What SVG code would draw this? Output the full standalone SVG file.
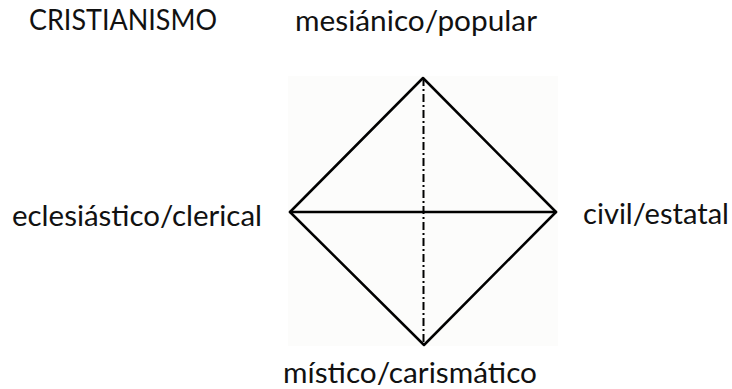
<svg xmlns="http://www.w3.org/2000/svg" width="732" height="389" viewBox="0 0 732 389">
<style>
.t{font-family:Lato,"Open Sans","Liberation Sans",sans-serif;font-size:29px;fill:#111}
.s{stroke:#000;stroke-width:2.5;fill:none;stroke-linecap:round;stroke-linejoin:round}
.d{stroke:#000;stroke-width:2;fill:none;stroke-dasharray:8 3 2 3}
</style>
<rect x="0" y="0" width="732" height="389" fill="#fff"/>
<rect x="288" y="76" width="270" height="270" fill="#fcfcfb"/>
<g id="title"><text class="t" x="29" y="30" textLength="188" lengthAdjust="spacingAndGlyphs">CRISTIANISMO</text></g>
<g id="node-top"><text class="t" x="295" y="31" textLength="242" lengthAdjust="spacingAndGlyphs">mesiánico/popular</text></g>
<g id="node-left"><text class="t" x="12" y="226" textLength="250" lengthAdjust="spacingAndGlyphs">eclesiástico/clerical</text></g>
<g id="node-right"><text class="t" x="583" y="224" textLength="146" lengthAdjust="spacingAndGlyphs">civil/estatal</text></g>
<g id="node-bottom"><text class="t" x="283" y="383" textLength="254" lengthAdjust="spacingAndGlyphs">místico/carismático</text></g>
<g id="connectors">
<polygon class="s" points="423,78 556,212 424,345 290,212"/>
<line class="s" x1="290" y1="212" x2="556" y2="212"/>
<line class="d" x1="423.5" y1="78" x2="423.5" y2="345"/>
</g>
</svg>
